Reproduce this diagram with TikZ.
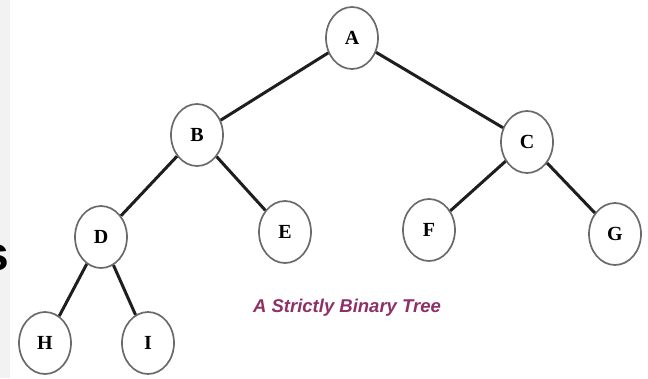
\documentclass[tikz,border=0pt]{standalone}
\usepackage{fontspec}
\setmainfont{Liberation Serif}
\setsansfont{Liberation Sans}
\usetikzlibrary{shapes.geometric}
\definecolor{edgecol}{HTML}{1E1E1E}
\definecolor{ringcol}{HTML}{6A6A6A}
\definecolor{labelcol}{HTML}{8E2F66}
\begin{document}
\begin{tikzpicture}[x=1pt,y=-1pt,
  treenode/.style={ellipse,draw=ringcol,line width=1.7pt,minimum width=52pt,minimum height=62pt,inner sep=0pt,fill=white,font=\fontsize{20}{20}\selectfont\bfseries},
  edge/.style={draw=edgecol,line width=3pt}]
\useasboundingbox (0,0) rectangle (648,378);
\clip (0,0) rectangle (648,378);
\fill[gray!10] (0,0) rectangle (10,378);
\node[anchor=base east,inner sep=0pt,font=\sffamily\bfseries\fontsize{48}{48}\selectfont] (frag) at (9,270) {s};
\node[treenode] (A) at (352,38) {A};
\node[treenode] (B) at (197,135) {B};
\node[treenode] (C) at (527,142) {C};
\node[treenode] (D) at (101,237) {D};
\node[treenode] (E) at (285,232) {E};
\node[treenode] (F) at (429,230) {F};
\node[treenode] (G) at (615,234) {G};
\node[treenode] (H) at (45,343) {H};
\node[treenode] (I) at (148,343) {I};
\draw[edge] (A) -- (B);
\draw[edge] (A) -- (C);
\draw[edge] (B) -- (D);
\draw[edge] (B) -- (E);
\draw[edge] (C) -- (F);
\draw[edge] (C) -- (G);
\draw[edge] (D) -- (H);
\draw[edge] (D) -- (I);
\node[font=\sffamily\bfseries\itshape\fontsize{18.5}{18.5}\selectfont,text=labelcol] (cap) at (347,308) {A Strictly Binary Tree};
\end{tikzpicture}
\end{document}
